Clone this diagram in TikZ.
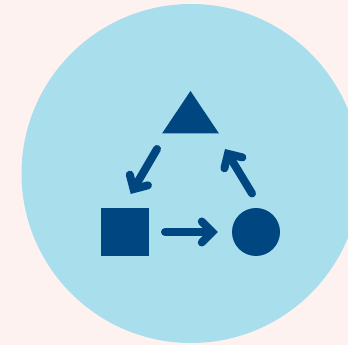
\documentclass[tikz,border=0pt]{standalone}
\usepackage{xcolor}
\usepackage{tikz}
\usetikzlibrary{positioning,calc,shapes.geometric}
\definecolor{paper}{HTML}{FDF2EF}
\definecolor{disc}{HTML}{A9DFEC}
\definecolor{navy}{HTML}{004680}
\pgfdeclarearrow{
  name=Vee Barb,
  setup code={\pgfarrowssettipend{5.7pt}\pgfarrowssetlineend{-1pt}},
  drawing code={
    \pgfsetlinewidth{8pt}\pgfsetroundcap\pgfsetmiterjoin
    \pgfpathmoveto{\pgfpoint{-10.5pt}{10.5pt}}
    \pgfpathlineto{\pgfpointorigin}
    \pgfpathlineto{\pgfpoint{-10.5pt}{-10.5pt}}
    \pgfusepathqstroke
  }
}
\tikzset{
  solid shape/.style={fill=navy, draw=none, inner sep=0pt, outer sep=0pt},
  flow/.style={draw=navy, line width=8pt, line cap=round, -{Vee Barb}}
}

\begin{document}
\begin{tikzpicture}[x=1pt,y=1pt]
  \useasboundingbox (0,0) rectangle (348,345);
  \clip (0,0) rectangle (348,345);
  \fill[paper] (0,0) rectangle (348,345);
  \fill[disc] (191,171.5) circle (169.5);
  \node[solid shape, isosceles triangle, isosceles triangle apex angle=68, isosceles triangle stretches,
        shape border rotate=90, minimum width=57pt, minimum height=42.5pt, anchor=apex] (tri) at (190.5,254) {};
  \node[solid shape, rectangle, minimum size=48pt] (sq) at (125,113) {};
  \node[solid shape, circle, minimum size=48pt] (circ) at (256,113) {};
  \draw[flow] ([shift={(-5,-15.5)}]tri.left corner) -- ([shift={(5.7,14)}]sq.north);
  \draw[flow] ([xshift=16]sq.east) -- ([xshift=-14]circ.west);
  \draw[flow] ([shift={(-4,14.5)}]circ.north) -- ([shift={(6,-15.5)}]tri.right corner);
\end{tikzpicture}
\end{document}
